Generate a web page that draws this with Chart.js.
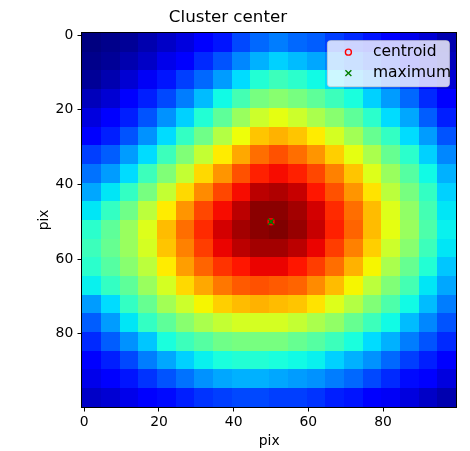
<!DOCTYPE html>
<html>
<head>
<meta charset="utf-8">
<script src="https://cdn.jsdelivr.net/npm/chart.js@4.4.1/dist/chart.umd.min.js"></script>
<style>
  html, body { margin: 0; padding: 0; background: #fff; }
</style>
</head>
<body>
<canvas id="chart-heat" width="470" height="451"></canvas>
<script>
// first pixel index of each 5x5 block of the image (same for rows and columns)
const blockStart = [0, 5, 10, 15, 20, 25, 30, 35, 40, 45, 50, 55, 60, 65, 70, 75, 80, 85, 90, 95];
const tickValues = [0, 20, 40, 60, 80];

// intensity of each block (row 0 = top)
const intensity = [
  [0.03, 0.04, 0.05, 0.07, 0.09, 0.11, 0.14, 0.17, 0.22, 0.25, 0.27, 0.25, 0.24, 0.21, 0.19, 0.17, 0.14, 0.12, 0.10, 0.07],
  [0.04, 0.05, 0.07, 0.09, 0.12, 0.15, 0.19, 0.23, 0.28, 0.32, 0.35, 0.33, 0.31, 0.28, 0.25, 0.22, 0.19, 0.15, 0.11, 0.08],
  [0.05, 0.07, 0.10, 0.13, 0.17, 0.21, 0.25, 0.30, 0.36, 0.41, 0.44, 0.42, 0.39, 0.36, 0.32, 0.28, 0.24, 0.20, 0.14, 0.10],
  [0.08, 0.10, 0.14, 0.18, 0.22, 0.27, 0.33, 0.39, 0.45, 0.51, 0.53, 0.51, 0.48, 0.44, 0.40, 0.35, 0.30, 0.25, 0.19, 0.14],
  [0.11, 0.14, 0.18, 0.23, 0.29, 0.35, 0.41, 0.48, 0.55, 0.61, 0.64, 0.61, 0.57, 0.53, 0.48, 0.42, 0.36, 0.31, 0.24, 0.18],
  [0.15, 0.18, 0.23, 0.29, 0.36, 0.43, 0.50, 0.58, 0.65, 0.71, 0.73, 0.71, 0.67, 0.62, 0.56, 0.49, 0.43, 0.36, 0.30, 0.23],
  [0.21, 0.24, 0.30, 0.36, 0.44, 0.52, 0.60, 0.67, 0.74, 0.80, 0.83, 0.80, 0.76, 0.70, 0.64, 0.57, 0.49, 0.42, 0.35, 0.28],
  [0.26, 0.30, 0.36, 0.44, 0.52, 0.60, 0.69, 0.76, 0.83, 0.88, 0.90, 0.88, 0.84, 0.78, 0.71, 0.63, 0.55, 0.47, 0.39, 0.32],
  [0.31, 0.37, 0.43, 0.51, 0.60, 0.69, 0.77, 0.84, 0.90, 0.95, 0.96, 0.94, 0.89, 0.83, 0.76, 0.68, 0.59, 0.51, 0.43, 0.35],
  [0.37, 0.43, 0.50, 0.59, 0.67, 0.76, 0.84, 0.90, 0.95, 0.99, 0.99, 0.97, 0.93, 0.87, 0.80, 0.72, 0.63, 0.54, 0.45, 0.37],
  [0.42, 0.48, 0.55, 0.63, 0.72, 0.80, 0.87, 0.93, 0.97, 0.99, 1.00, 0.98, 0.94, 0.88, 0.81, 0.72, 0.64, 0.55, 0.46, 0.38],
  [0.44, 0.49, 0.55, 0.62, 0.71, 0.78, 0.85, 0.91, 0.95, 0.97, 0.97, 0.95, 0.91, 0.85, 0.78, 0.70, 0.61, 0.53, 0.44, 0.37],
  [0.42, 0.47, 0.53, 0.59, 0.67, 0.75, 0.81, 0.86, 0.89, 0.91, 0.91, 0.89, 0.85, 0.80, 0.73, 0.66, 0.57, 0.49, 0.41, 0.34],
  [0.38, 0.43, 0.48, 0.55, 0.62, 0.69, 0.74, 0.79, 0.82, 0.83, 0.82, 0.81, 0.77, 0.72, 0.66, 0.59, 0.52, 0.45, 0.37, 0.31],
  [0.30, 0.36, 0.43, 0.49, 0.56, 0.61, 0.66, 0.70, 0.72, 0.73, 0.72, 0.71, 0.68, 0.63, 0.58, 0.52, 0.46, 0.39, 0.33, 0.27],
  [0.24, 0.30, 0.37, 0.43, 0.48, 0.53, 0.57, 0.60, 0.62, 0.62, 0.62, 0.60, 0.57, 0.54, 0.49, 0.44, 0.39, 0.33, 0.28, 0.23],
  [0.19, 0.24, 0.29, 0.34, 0.40, 0.44, 0.47, 0.50, 0.51, 0.51, 0.51, 0.49, 0.47, 0.44, 0.40, 0.36, 0.32, 0.27, 0.23, 0.19],
  [0.15, 0.18, 0.22, 0.27, 0.31, 0.35, 0.38, 0.40, 0.41, 0.41, 0.40, 0.39, 0.38, 0.35, 0.32, 0.29, 0.25, 0.21, 0.18, 0.15],
  [0.12, 0.14, 0.17, 0.20, 0.23, 0.26, 0.29, 0.31, 0.32, 0.32, 0.31, 0.30, 0.29, 0.27, 0.25, 0.22, 0.19, 0.16, 0.14, 0.11],
  [0.09, 0.10, 0.12, 0.14, 0.16, 0.18, 0.20, 0.21, 0.22, 0.22, 0.21, 0.21, 0.20, 0.18, 0.17, 0.15, 0.13, 0.11, 0.09, 0.07]
];

const centroid = [{ x: 50, y: 50 }];
const maximum = [{ x: 50, y: 50 }];

// matplotlib "jet" colour map
const jetR = [[0, 0], [0.35, 0], [0.66, 1], [0.89, 1], [1, 0.5]];
const jetG = [[0, 0], [0.125, 0], [0.375, 1], [0.64, 1], [0.91, 0], [1, 0]];
const jetB = [[0, 0.5], [0.11, 1], [0.34, 1], [0.65, 0], [1, 0]];

function channel(stops, t) {
  for (let k = 1; k < stops.length; k++) {
    if (t <= stops[k][0]) {
      const [t0, v0] = stops[k - 1];
      const [t1, v1] = stops[k];
      return v0 + (v1 - v0) * (t - t0) / (t1 - t0);
    }
  }
  return stops[stops.length - 1][1];
}

function jet(t) {
  t = Math.min(1, Math.max(0, t));
  const r = Math.round(255 * channel(jetR, t));
  const g = Math.round(255 * channel(jetG, t));
  const b = Math.round(255 * channel(jetB, t));
  return 'rgb(' + r + ',' + g + ',' + b + ')';
}

const BLOCK = 5;
const FONT = 'DejaVu Sans';

const heatmap = {
  id: 'heatmap',
  beforeDatasetsDraw(chart) {
    const { ctx, scales: { x, y } } = chart;
    const flat = intensity.flat();
    const lo = Math.min(...flat);
    const hi = Math.max(...flat);
    ctx.save();
    intensity.forEach((row, j) => {
      const y0 = Math.round(y.getPixelForValue(blockStart[j] - 0.5));
      const y1 = Math.round(y.getPixelForValue(blockStart[j] + BLOCK - 0.5));
      row.forEach((v, i) => {
        const x0 = Math.round(x.getPixelForValue(blockStart[i] - 0.5));
        const x1 = Math.round(x.getPixelForValue(blockStart[i] + BLOCK - 0.5));
        ctx.fillStyle = jet((v - lo) / (hi - lo));
        ctx.fillRect(x0, y0, x1 - x0, y1 - y0);
      });
    });
    ctx.restore();
  },
  afterDatasetsDraw(chart) {
    // axes frame
    const { ctx, chartArea: a } = chart;
    ctx.save();
    ctx.strokeStyle = '#000';
    ctx.lineWidth = 1;
    ctx.strokeRect(Math.round(a.left) - 0.5, Math.round(a.top) - 0.5,
      Math.round(a.right) - Math.round(a.left) + 1, Math.round(a.bottom) - Math.round(a.top) + 1);
    ctx.restore();
  }
};

// legend in the upper right corner of the axes, like matplotlib
const cornerLegend = {
  id: 'cornerLegend',
  afterDraw(chart) {
    const { ctx, chartArea: a } = chart;
    const w = 122, h = 46;
    const bx = a.right - 7 - w, by = a.top + 7;
    ctx.save();
    ctx.beginPath();
    ctx.roundRect(bx + 0.5, by + 0.5, w, h, 3);
    ctx.fillStyle = 'rgba(255,255,255,0.8)';
    ctx.fill();
    ctx.strokeStyle = 'rgba(204,204,204,0.8)';
    ctx.lineWidth = 1;
    ctx.stroke();
    chart.data.datasets.forEach((ds, k) => {
      const my = by + 12 + k * 21;
      ctx.strokeStyle = ds.borderColor;
      ctx.fillStyle = ds.backgroundColor;
      ctx.lineWidth = ds.borderWidth;
      Chart.helpers.drawPoint(ctx, {
        pointStyle: ds.pointStyle, radius: ds.pointRadius,
        borderWidth: ds.borderWidth, rotation: 0
      }, bx + 21.5, my);
      ctx.fillStyle = '#000';
      ctx.font = '15.5px "' + FONT + '"';
      ctx.textBaseline = 'alphabetic';
      ctx.textAlign = 'left';
      ctx.fillText(ds.label, bx + 46, my + 3.8);
    });
    ctx.restore();
  }
};

Chart.defaults.font.family = FONT;
Chart.defaults.color = '#000';

new Chart(document.getElementById('chart-heat').getContext('2d'), {
  type: 'scatter',
  data: {
    datasets: [{
      label: 'centroid',
      data: centroid,
      pointStyle: 'circle',
      pointRadius: 3,
      pointHoverRadius: 3,
      borderWidth: 1.4,
      borderColor: '#ff0000',
      backgroundColor: 'rgba(0,0,0,0)',
      order: 1
    }, {
      label: 'maximum',
      data: maximum,
      pointStyle: 'crossRot',
      pointRadius: 4.2,
      pointHoverRadius: 4.2,
      borderWidth: 1.4,
      borderColor: '#008000',
      backgroundColor: '#008000',
      order: 0
    }]
  },
  options: {
    responsive: false,
    animation: false,
    events: [],
    layout: { padding: { left: 0, right: 14.1, top: 0, bottom: 0 } },
    plugins: {
      legend: { display: false },
      tooltip: { enabled: false },
      title: {
        display: true,
        text: 'Cluster center',
        color: '#000',
        font: { family: FONT, size: 16.7, weight: 'normal' },
        padding: { top: 7.8, bottom: 5.3 }
      }
    },
    scales: {
      x: {
        type: 'linear',
        min: -0.5,
        max: 99.5,
        afterBuildTicks: s => { s.ticks = tickValues.map(v => ({ value: v })); },
        afterFit: s => { s.height = 44.4; },
        grid: { drawOnChartArea: false, drawTicks: true, tickLength: 4.9, color: '#000', tickColor: '#000', lineWidth: 1 },
        border: { display: false },
        ticks: { color: '#000', padding: 2.2, maxRotation: 0, autoSkip: false, font: { family: FONT, size: 13.9 } },
        title: { display: true, text: 'pix', color: '#000', font: { family: FONT, size: 13.9 }, padding: { top: 0, bottom: 1.5 } }
      },
      y: {
        type: 'linear',
        reverse: true,
        min: -0.5,
        max: 99.5,
        afterBuildTicks: s => { s.ticks = tickValues.map(v => ({ value: v })); },
        afterFit: s => { s.width = 82.4; },
        grid: { drawOnChartArea: false, drawTicks: true, tickLength: 4.9, color: '#000', tickColor: '#000', lineWidth: 1 },
        border: { display: false },
        ticks: { color: '#000', padding: 4.2, autoSkip: false, font: { family: FONT, size: 13.9 } },
        title: { display: true, text: 'pix', color: '#000', font: { family: FONT, size: 13.9 }, padding: { top: 36.2, bottom: 0 } }
      }
    }
  },
  plugins: [heatmap, cornerLegend]
});
</script>
</body>
</html>
